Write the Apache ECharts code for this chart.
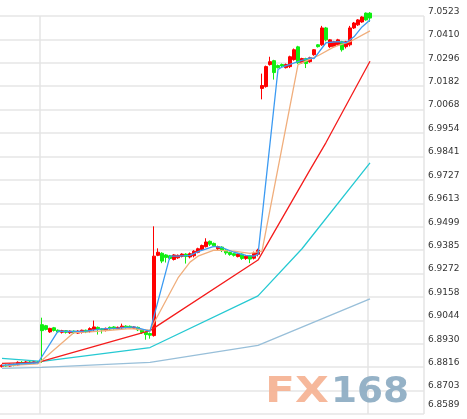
<!DOCTYPE html>
<html><head><meta charset="utf-8">
<script src="https://cdn.jsdelivr.net/npm/echarts@6/dist/echarts.min.js"></script>
<style>html,body{margin:0;padding:0;background:#fff}#c{width:467px;height:419px}</style>
</head><body><div id="c"></div>
<script>
// y-axis tick labels, top to bottom
const TICK_LABELS = ['7.0523','7.0410','7.0296','7.0182','7.0068','6.9954','6.9841','6.9727','6.9613',
  '6.9499','6.9385','6.9272','6.9158','6.9044','6.8930','6.8816','6.8703','6.8589'];
const Y_MIN = 6.8589, Y_MAX = 7.0523;
const SLOT_COUNT = 106;
const CATEGORIES = Array.from({length: SLOT_COUNT}, (_, i) => 'K' + i);
const DAY_BREAKS = [10, 92];

// candles: [open, close, low, high]
const CANDLES = [
  [6.8820,6.8826,6.8815,6.8830],[6.8826,6.8822,6.8818,6.8830],[6.8822,6.8830,6.8819,6.8834],
  [6.8830,6.8826,6.8821,6.8834],[6.8828,6.8840,6.8825,6.8845],[6.8840,6.8834,6.8830,6.8846],
  [6.8834,6.8842,6.8830,6.8847],[6.8842,6.8837,6.8833,6.8846],[6.8837,6.8843,6.8834,6.8848],
  [6.8843,6.8839,6.8835,6.8847],
  [6.9023,6.8994,6.8838,6.9057],[6.9018,6.9000,6.8995,6.9022],[6.8988,6.9005,6.8983,6.9008],
  [6.9008,6.8995,6.8990,6.9012],[6.8996,6.8988,6.8983,6.9000],[6.8986,6.8994,6.8980,6.8998],
  [6.8994,6.8986,6.8980,6.8997],[6.8984,6.8992,6.8978,6.8995],[6.8992,6.8984,6.8978,6.8995],
  [6.8982,6.8992,6.8978,6.8996],[6.8986,6.8996,6.8980,6.8999],[6.8996,6.8988,6.8982,6.8999],
  [6.8990,6.9004,6.8985,6.9010],[6.9000,6.9012,6.8992,6.9043],[6.9010,6.9002,6.8975,6.9014],
  [6.9003,6.8998,6.8980,6.9007],[6.8998,6.9005,6.8990,6.9009],[6.9010,6.9002,6.8996,6.9014],
  [6.9012,6.9004,6.8998,6.9016],[6.9004,6.9010,6.9000,6.9014],[6.9008,6.9016,6.9002,6.9028],
  [6.9016,6.9009,6.9004,6.9020],[6.9015,6.9008,6.9003,6.9019],[6.9006,6.9012,6.9002,6.9016],
  [6.9010,6.8998,6.8992,6.9014],[6.8998,6.8985,6.8978,6.9001],[6.8986,6.8975,6.8950,6.8990],
  [6.8980,6.8972,6.8955,6.8985],
  [6.8970,6.9356,6.8965,6.9501],
  [6.9360,6.9375,6.9356,6.9394],[6.9370,6.9332,6.9322,6.9375],[6.9362,6.9350,6.9325,6.9366],
  [6.9358,6.9345,6.9338,6.9362],[6.9340,6.9362,6.9335,6.9366],[6.9348,6.9360,6.9343,6.9364],
  [6.9355,6.9366,6.9350,6.9370],[6.9366,6.9354,6.9320,6.9370],[6.9352,6.9368,6.9345,6.9374],
  [6.9358,6.9380,6.9350,6.9385],[6.9375,6.9392,6.9370,6.9397],[6.9388,6.9408,6.9382,6.9412],
  [6.9402,6.9425,6.9398,6.9443],[6.9428,6.9414,6.9406,6.9432],[6.9418,6.9406,6.9400,6.9422],
  [6.9392,6.9402,6.9386,6.9407],[6.9400,6.9386,6.9376,6.9404],[6.9386,6.9372,6.9363,6.9390],
  [6.9374,6.9364,6.9358,6.9378],[6.9368,6.9360,6.9354,6.9372],[6.9354,6.9366,6.9350,6.9370],
  [6.9366,6.9345,6.9338,6.9370],[6.9345,6.9356,6.9338,6.9360],[6.9358,6.9342,6.9322,6.9362],
  [6.9346,6.9370,6.9340,6.9378],[6.9365,6.9385,6.9355,6.9392],
  [7.0171,7.0185,7.0118,7.0243],[7.0180,7.0277,7.0175,7.0282],[7.0287,7.0301,7.0282,7.0325],
  [7.0306,7.0248,7.0214,7.0310],[7.0282,7.0272,7.0268,7.0287],[7.0287,7.0280,7.0275,7.0292],
  [7.0272,7.0287,7.0268,7.0292],[7.0277,7.0325,7.0270,7.0330],[7.0311,7.0359,7.0306,7.0365],
  [7.0373,7.0296,7.0290,7.0378],[7.0296,7.0316,7.0290,7.0320],[7.0316,7.0292,7.0270,7.0320],
  [7.0301,7.0320,7.0296,7.0325],[7.0335,7.0359,7.0330,7.0362],[7.0383,7.0374,7.0370,7.0386],
  [7.0383,7.0465,7.0378,7.0475],[7.0465,7.0407,7.0400,7.0470],[7.0374,7.0407,7.0368,7.0410],
  [7.0374,7.0398,7.0370,7.0402],[7.0383,7.0407,7.0380,7.0412],[7.0398,7.0359,7.0350,7.0402],
  [7.0374,7.0398,7.0365,7.0402],[7.0383,7.0465,7.0375,7.0475],[7.0465,7.0489,7.0460,7.0494],
  [7.0480,7.0504,7.0475,7.0508],[7.0494,7.0518,7.0490,7.0522],[7.0537,7.0504,7.0500,7.0540],
  [7.0537,7.0513,7.0495,7.0542]
];

// moving-average lines, read as [slot index, price] vertices
const MA_BLUE = [[0,6.8825],[4,6.8832],[9,6.8838],[14,6.8992],[17,6.8990],[21,6.8992],[25,6.9003],
  [29,6.9006],[33,6.9012],[36,6.8996],[37,6.8992],[42,6.9356],[44,6.9356],[47,6.9360],[49,6.9378],
  [53,6.9404],[55,6.9398],[58,6.9375],[61,6.9360],[63,6.9356],[64,6.9365],[69,7.0263],[70,7.0275],
  [74,7.0301],[77,7.0320],[78,7.0316],[81,7.0393],[84,7.0398],[86,7.0393],[88,7.0422],[90,7.0470],[92,7.0504]];
const MA_TAN = [[0,6.8823],[9,6.8833],[18,6.8985],[22,6.8988],[27,6.8996],[32,6.9004],[37,6.8996],
  [44,6.9250],[47,6.9327],[49,6.9356],[53,6.9385],[58,6.9380],[62,6.9370],[65,6.9380],[74,7.0287],
  [79,7.0330],[83,7.0373],[87,7.0398],[92,7.0451]];
const MA_RED = [[0,6.8835],[9,6.8840],[37,6.8994],[64,6.9337],[77,6.9775],[81,6.9908],[92,7.0303]];
const MA_CYAN = [[0,6.8859],[10,6.8845],[37,6.8912],[64,6.9163],[75,6.9392],[92,6.9809]];
const MA_STEEL = [[0,6.8811],[10,6.8816],[37,6.8840],[64,6.8922],[92,6.9148]];

const FONT = 'DejaVu Sans';
const chart = echarts.init(document.getElementById('c'), null, {renderer: 'canvas'});
function maLine(data, color) {
  return {type: 'line', data, xAxisIndex: 0, yAxisIndex: 0, symbol: 'none', silent: true,
    lineStyle: {width: 1.3, color}, z: 3};
}
chart.setOption({
  animation: false,
  backgroundColor: '#fff',
  grid: {left: 0, right: 43, top: 16, bottom: 2, containLabel: false},
  xAxis: [{
    type: 'category', data: CATEGORIES, boundaryGap: true,
    axisLine: {show: false}, axisTick: {show: false}, axisLabel: {show: false},
    splitLine: {show: true, interval: (i) => DAY_BREAKS.includes(i),
      lineStyle: {color: '#e4e4e4', width: 1.5}}
  }],
  yAxis: [{
    type: 'value', min: Y_MIN, max: Y_MAX, show: false, scale: true,
    splitLine: {show: false}
  }, {
    type: 'value', min: 0, max: TICK_LABELS.length - 1, interval: 1, inverse: true,
    position: 'right',
    axisLine: {show: false}, axisTick: {show: false},
    splitLine: {show: true, lineStyle: {color: '#ececec', width: 2}},
    axisLabel: {
      show: true, margin: 4, fontFamily: FONT, fontSize: 9, color: '#333',
      verticalAlign: 'bottom', lineHeight: 9,
      formatter: (v) => v === TICK_LABELS.length - 1 ? '{last|' + TICK_LABELS[v] + '}' : TICK_LABELS[v],
      rich: {last: {fontFamily: FONT, fontSize: 9, color: '#333', lineHeight: 9, padding: [0, 0, 10, 0]}}
    }
  }],
  series: [
    {
      type: 'candlestick', data: CANDLES, xAxisIndex: 0, yAxisIndex: 0, barWidth: 4, clip: false,
      itemStyle: {color: '#ff0000', color0: '#11ee11', borderColor: '#ff0000', borderColor0: '#11ee11', borderWidth: 1},
      z: 2
    },
    maLine(MA_STEEL, '#98bfd9'),
    maLine(MA_CYAN, '#26c9d2'),
    maLine(MA_RED, '#f41c1c'),
    maLine(MA_TAN, '#f0ae7c'),
    maLine(MA_BLUE, '#3b9af2')
  ],
  graphic: [
    {type: 'text', x: 265, y: 393, scaleX: 1.22, z: 100,
      style: {text: 'FX', font: 'bold 36px "DejaVu Sans"', fill: '#f5b496', verticalAlign: 'middle', align: 'left', opacity: 0.95}},
    {type: 'text', x: 331, y: 393, scaleX: 1.04, z: 100,
      style: {text: '168', font: 'bold 36px "DejaVu Sans"', fill: '#8faec4', verticalAlign: 'middle', align: 'left', opacity: 0.95}}
  ]
});
</script></body></html>
